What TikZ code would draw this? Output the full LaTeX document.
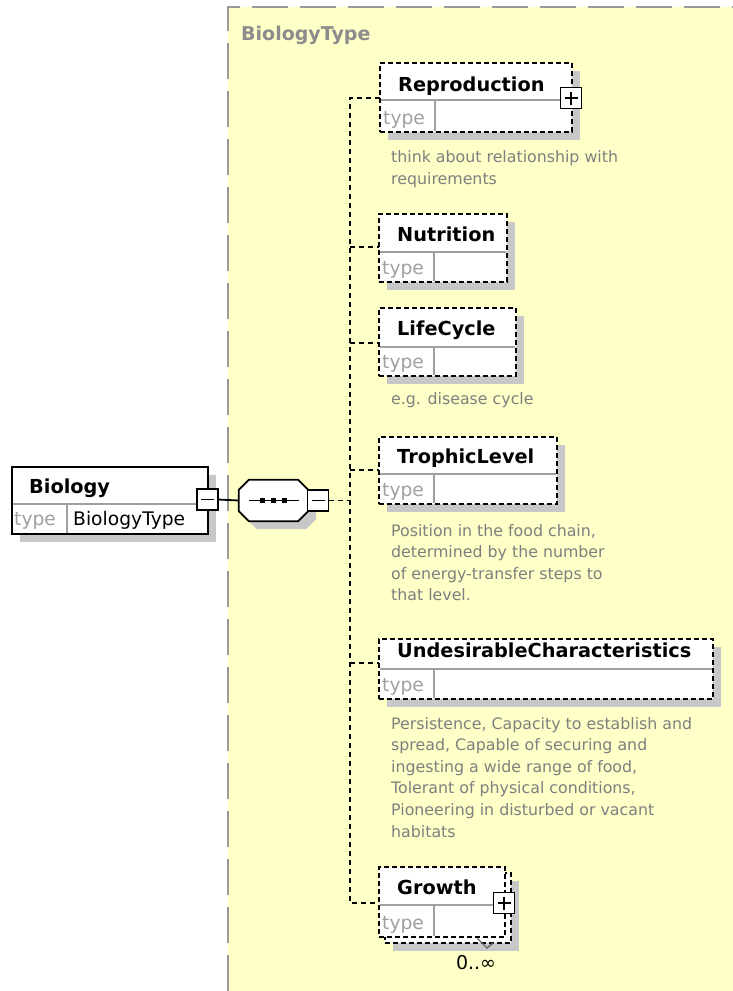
\documentclass[tikz,border=0pt]{standalone}
\usepackage{fontspec}
\setmainfont{DejaVu Sans}
\usetikzlibrary{calc}

\definecolor{bgyellow}{HTML}{FFFFC8}
\definecolor{framegray}{HTML}{9A9A9A}
\definecolor{shadowgray}{HTML}{C8C8C8}
\definecolor{sepgray}{HTML}{A0A0A0}
\definecolor{typegray}{HTML}{A0A0A0}
\definecolor{notegray}{HTML}{7F7F7F}
\definecolor{headgray}{HTML}{8C8C8C}

% octagon (sequence compositor) outline around a rectangular node
\newcommand\octpath[1]{([xshift=10pt]#1.north west) -- ([xshift=-10pt]#1.north east)
  -- ([yshift=-10pt]#1.north east) -- ([yshift=10pt]#1.south east)
  -- ([xshift=-10pt]#1.south east) -- ([xshift=10pt]#1.south west)
  -- ([yshift=10pt]#1.south west) -- ([yshift=-10pt]#1.north west) -- cycle}

% element box: name, left, top, right, bottom, separator y, name baseline, label, style
\newcommand\elementbox[9]{%
  \node[#9, minimum width={#4-#2}, minimum height={#5-#3}, anchor=north west] (#1) at (#2,#3) {};
  \draw[sepline] (#2+1,#6) -- (#4-1,#6);
  \draw[sepline] (#2+55,#6) -- (#2+55,#5-1);
  \node[elname] (#1-name) at (#2+18,#7) {#8};
  \node[typelbl] (#1-type) at (#2+3,#5-8) {type};
}

\begin{document}
\begin{tikzpicture}[x=1pt,y=-1pt,
  frame/.style={draw=framegray, line width=2pt, dash pattern=on 36pt off 12pt},
  shade/.style={fill=shadowgray},
  optbox/.style={draw=black, fill=white, line width=1.9pt, dash pattern=on 5pt off 3pt, inner sep=0pt, outer sep=0pt},
  reqbox/.style={draw=black, fill=white, line width=1.9pt, inner sep=0pt, outer sep=0pt},
  sepline/.style={draw=sepgray, line width=1.4pt},
  elname/.style={font=\bfseries\fontsize{19.3}{23}\selectfont, inner sep=0pt, anchor=base west},
  typelbl/.style={text=typegray, font=\fontsize{18.7}{22}\selectfont, inner sep=0pt, anchor=base west},
  note/.style={text=notegray, font=\fontsize{15.8}{21.6}\selectfont, inner sep=0pt, anchor=base west},
  link/.style={line width=1.8pt, dash pattern=on 5pt off 4pt},
  solidlink/.style={line width=1.8pt},
  toggle/.style={draw=black, fill=white, line width=1.8pt, minimum size=21pt, inner sep=0pt, outer sep=0pt},
  sign/.style={line width=1.7pt}]

\useasboundingbox (0,0) rectangle (733,991);
\fill[white] (0,0) rectangle (733,991);

% complex type area
\fill[bgyellow] (228,7) rectangle (733,991);
\draw[frame] (228,991) -- (228,7) -- (733,7);
\node[font=\bfseries\fontsize{19}{23}\selectfont, text=headgray, inner sep=0pt, anchor=base west] (typetitle) at (241,40) {BiologyType};

% shadows
\fill[shade] (20,475) rectangle (216,542);
\fill[shade] (388,71) rectangle (580,140);
\fill[shade] (387,222) rectangle (515,290);
\fill[shade] (387,316) rectangle (524,384);
\fill[shade] (387,445) rectangle (565,512);
\fill[shade] (387,647) rectangle (721,707);
\fill[shade] (393,881) rectangle (519,951);

% root element
\node[reqbox, minimum width=196pt, minimum height=67pt, anchor=north west] (biology) at (12,467) {};
\draw[sepline] (13,504) -- (207,504);
\draw[sepline] (67,504) -- (67,533);
\node[elname] (biology-name) at (29,493) {Biology};
\node[typelbl] (biology-type) at (14,525) {type};
\node[typelbl, text=black] (biology-typename) at (73,525) {BiologyType};
\node[toggle] (biotog) at (207.5,499.5) {};
\draw[sign] (biotog.center) +(-6.5,0) -- +(6.5,0);

% sequence compositor
\node[minimum width=69pt, minimum height=41pt, inner sep=0pt] (seqshadow) at (281.5,508.5) {};
\node[minimum width=69pt, minimum height=41pt, inner sep=0pt] (seq) at (273.5,500.5) {};
\fill[shade] \octpath{seqshadow};
\draw[solidlink, fill=white] \octpath{seq};
\draw[line width=1.5pt] ([xshift=-24.5pt]seq.center) -- ([xshift=25.5pt]seq.center);
\foreach \dx in {-11,0,11}
  \fill ($(seq.center)+(\dx-2.7,-2.7)$) rectangle ($(seq.center)+(\dx+2.7,2.7)$);
\node[toggle] (seqtog) at (318,500.5) {};
\draw[sign] (seqtog.center) +(-6.5,0) -- +(6.5,0);

\draw[solidlink] (biotog.east) -- (seq.west);

% child elements
\elementbox{repro}{380}{63}{572}{132}{100}{91}{Reproduction}{optbox}
\elementbox{nutrition}{379}{214}{507}{282}{252}{241}{Nutrition}{optbox}
\elementbox{lifecycle}{379}{308}{516}{376}{347}{335}{LifeCycle}{optbox}
\elementbox{trophic}{379}{437}{557}{504}{474}{463}{TrophicLevel}{optbox}
\elementbox{undesirable}{379}{639}{713}{699}{669}{657}{UndesirableCharacteristics}{optbox}
\node[optbox, minimum width=126pt, minimum height=70pt, anchor=north west] (growthback) at (385,873) {};
\elementbox{growth}{379}{867}{505}{937}{905}{894}{Growth}{optbox}

\node[toggle] (reprotog) at (571,98) {};
\draw[sign] (reprotog.center) +(-6.5,0) -- +(6.5,0);
\draw[sign] (reprotog.center) +(0,-6.5) -- +(0,6.5);
\node[toggle] (growthtog) at (504,903) {};
\draw[sign] (growthtog.center) +(-6.5,0) -- +(6.5,0);
\draw[sign] (growthtog.center) +(0,-6.5) -- +(0,6.5);

% occurrence of Growth
\draw[line width=1.4pt, draw=black!60] (477,938) -- (487,948) -- (493,943);
\node[font=\fontsize{19}{22}\selectfont, inner sep=0pt] (growthmult) at (476,963) {0..∞};

% connectors from the compositor
\coordinate (j0) at (350,500.5);
\coordinate (j1) at (350,98);
\coordinate (j2) at (350,247);
\coordinate (j3) at (350,343);
\coordinate (j4) at (350,470);
\coordinate (j5) at (350,663);
\coordinate (j6) at (350,903);
\draw[link] (seqtog.east) -- (j0);
\draw[link] (repro.west |- j1) -- (j1) -- (j6) -- (growth.west |- j6);
\draw[link] (j2) -- (nutrition.west |- j2);
\draw[link] (j3) -- (lifecycle.west |- j3);
\draw[link] (j4) -- (trophic.west |- j4);
\draw[link] (j5) -- (undesirable.west |- j5);

% annotations
\foreach \ln [count=\k from 0] in {think about relationship with, requirements}
  \node[note] (repronote\k) at (391,162+22*\k) {\ln};
\node[note] (lifenote) at (391,404) {e.g. disease cycle};
\foreach \ln [count=\k from 0] in {{Position in the food chain,},{determined by the number},{of energy-transfer steps to},{that level.}}
  \node[note] (trophicnote\k) at (391,536+21.5*\k) {\ln};
\foreach \ln [count=\k from 0] in {{Persistence, Capacity to establish and},{spread, Capable of securing and},{ingesting a wide range of food,},{Tolerant of physical conditions,},{Pioneering in disturbed or vacant},{habitats}}
  \node[note] (undesnote\k) at (391,729+21.6*\k) {\ln};

\end{tikzpicture}
\end{document}
